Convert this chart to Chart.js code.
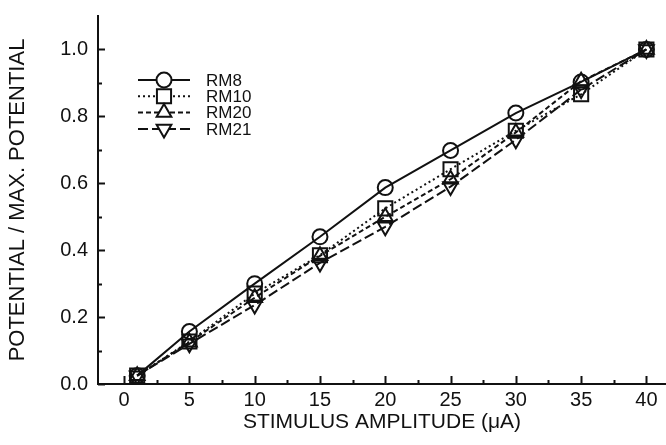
<!DOCTYPE html>
<html>
<head>
<meta charset="utf-8">
<script src="https://cdn.jsdelivr.net/npm/chart.js@4/dist/chart.umd.min.js"></script>
<style>
  html, body { margin: 0; padding: 0; background: #fff; overflow: hidden; }
  #wrap { width: 666px; height: 445px; position: relative; }
</style>
</head>
<body>
<div id="wrap"><canvas id="chart"></canvas></div>
<script>
// stimulus amplitude (uA) and normalised potentials per recording
const amplitudes = [1, 5, 10, 15, 20, 25, 30, 35, 40];
const rm8  = [0.025, 0.157, 0.300, 0.440, 0.587, 0.698, 0.810, 0.903, 1.0];
const rm10 = [0.025, 0.127, 0.270, 0.385, 0.525, 0.642, 0.757, 0.866, 1.0];
const rm20 = [0.025, 0.125, 0.258, 0.383, 0.500, 0.612, 0.752, 0.905, 1.0];
const rm21 = [0.025, 0.120, 0.236, 0.362, 0.470, 0.590, 0.730, 0.880, 1.0];

const xTicks = [0, 2.5, 5, 7.5, 10, 12.5, 15, 17.5, 20, 22.5, 25, 27.5, 30, 32.5, 35, 37.5, 40];
const xLabels = ['0', '', '5', '', '10', '', '15', '', '20', '', '25', '', '30', '', '35', '', '40'];
const yTicks = [0, 0.1, 0.2, 0.3, 0.4, 0.5, 0.6, 0.7, 0.8, 0.9, 1.0];
const yLabels = ['0.0', '', '0.2', '', '0.4', '', '0.6', '', '0.8', '', '1.0'];

const FONT = "'Liberation Sans', Arial, Helvetica, sans-serif";
const INK = '#111';

function series(label, data, dash, style, radius, rotation) {
  return {
    label,
    data: amplitudes.map((x, i) => ({ x, y: data[i] })),
    borderColor: INK,
    borderWidth: 2,
    borderDash: dash,
    backgroundColor: 'rgba(0,0,0,0)',
    pointStyle: style,
    pointRadius: radius,
    pointRotation: rotation,
    pointBorderColor: INK,
    pointBorderWidth: 2,
    pointBackgroundColor: 'rgba(0,0,0,0)',
    tension: 0,
    fill: false
  };
}

// inward tick marks along both axes
const innerTicks = {
  id: 'innerTicks',
  afterDraw(chart) {
    const ctx = chart.ctx;
    const xs = chart.scales.x, ys = chart.scales.y;
    const area = chart.chartArea;
    ctx.save();
    ctx.strokeStyle = INK;
    ctx.lineWidth = 2;
    xs.ticks.forEach((t, i) => {
      const px = Math.round(xs.getPixelForValue(t.value)) + 0.5;
      const len = xLabels[i] ? 8 : 4;
      ctx.beginPath();
      ctx.moveTo(px, area.bottom);
      ctx.lineTo(px, area.bottom - len);
      ctx.stroke();
    });
    ys.ticks.forEach((t, i) => {
      const py = Math.round(ys.getPixelForValue(t.value)) + 0.5;
      const len = yLabels[i] ? 7 : 4;
      ctx.beginPath();
      ctx.moveTo(area.left, py);
      ctx.lineTo(area.left + len, py);
      ctx.stroke();
    });
    ctx.restore();
  }
};

// legend: short line with the marker in its middle, label on the right
const lineLegend = {
  id: 'lineLegend',
  afterDraw(chart) {
    const ctx = chart.ctx;
    const x0 = 138, x1 = 190, tx = 206;
    let y = 80;
    chart.data.datasets.forEach(ds => {
      ctx.save();
      ctx.strokeStyle = INK;
      ctx.lineWidth = 2;
      ctx.setLineDash(ds.borderDash);
      ctx.beginPath();
      ctx.moveTo(x0, y);
      ctx.lineTo(x1, y);
      ctx.stroke();
      ctx.setLineDash([]);
      ctx.fillStyle = '#fff';
      Chart.helpers.drawPoint(ctx, {
        pointStyle: ds.pointStyle,
        radius: ds.pointRadius,
        rotation: ds.pointRotation,
        borderWidth: 2
      }, (x0 + x1) / 2, y);
      ctx.fillStyle = INK;
      ctx.font = '17px ' + FONT;
      ctx.textBaseline = 'middle';
      ctx.fillText(ds.label, tx, y + 1);
      ctx.restore();
      y += 16.3;
    });
  }
};

new Chart(document.getElementById('chart'), {
  type: 'line',
  data: {
    datasets: [
      series('RM8', rm8, [], 'circle', 7.5, 0),
      series('RM10', rm10, [2, 3], 'rect', 10, 0),
      series('RM20', rm20, [5, 3], 'triangle', 8.5, 0),
      series('RM21', rm21, [10, 4], 'triangle', 8.5, 180)
    ]
  },
  options: {
    responsive: true,
    maintainAspectRatio: false,
    animation: false,
    layout: { autoPadding: false, padding: { top: 16, right: 0, left: 0, bottom: 0 } },
    plugins: { legend: { display: false }, tooltip: { enabled: false } },
    scales: {
      x: {
        type: 'linear',
        min: -2,
        max: 41.5,
        afterBuildTicks: s => { s.ticks = xTicks.map(v => ({ value: v })); },
        afterFit: s => { s.height = 61; s.paddingLeft = 0; s.paddingRight = 0; },
        grid: { display: false, drawTicks: false },
        border: { display: true, color: INK, width: 2 },
        ticks: {
          color: INK,
          padding: 4,
          maxRotation: 0,
          autoSkip: false,
          font: { family: FONT, size: 20 },
          callback: (v, i) => xLabels[i]
        },
        title: {
          display: true,
          text: 'STIMULUS AMPLITUDE (\u03BCA)',
          color: INK,
          font: { family: FONT, size: 21 },
          padding: { top: 0, bottom: 10 }
        }
      },
      y: {
        type: 'linear',
        min: 0,
        max: 1.1,
        afterBuildTicks: s => { s.ticks = yTicks.map(v => ({ value: v })); },
        afterFit: s => { s.width = 98; s.paddingTop = 0; s.paddingBottom = 0; },
        grid: { display: false, drawTicks: false },
        border: { display: true, color: INK, width: 2 },
        ticks: {
          color: INK,
          padding: 10,
          autoSkip: false,
          font: { family: FONT, size: 20 },
          callback: (v, i) => yLabels[i]
        },
        title: {
          display: true,
          text: 'POTENTIAL / MAX. POTENTIAL',
          color: INK,
          font: { family: FONT, size: 22 },
          padding: { top: 5, bottom: 0 }
        }
      }
    }
  },
  plugins: [innerTicks, lineLegend]
});
</script>
</body>
</html>
